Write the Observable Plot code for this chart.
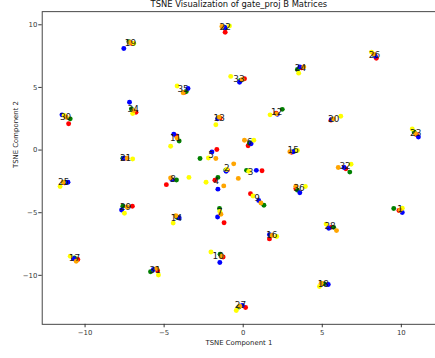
<!DOCTYPE html>
<html>
<head>
<meta charset="utf-8">
<script src="https://cdn.jsdelivr.net/npm/d3@7"></script>
<script src="https://cdn.jsdelivr.net/npm/@observablehq/plot@0.6"></script>
<style>
  html, body { margin: 0; padding: 0; background: #fff; }
  #chart { width: 435px; height: 358px; overflow: hidden; position: relative; }
</style>
</head>
<body>
<div id="chart"></div>
<script>
const titleText = "TSNE Visualization of gate_proj B Matrices";
const xLabel = "TSNE Component 1";
const yLabel = "TSNE Component 2";
const xTicks = [-10, -5, 0, 5, 10];
const yTicks = [-10, -5, 0, 5, 10];

const layers = d3.range(1, 37);
const seriesNames = ["red", "green", "blue", "yellow", "orange"];
const seriesColors = ["red", "green", "blue", "yellow", "orange"];

const redX = [9.85,-1.0,1.19,-1.79,-1.67,0.31,-1.21,-4.86,0.46,-1.27,-4.22,2.08,-1.46,-4.22,3.06,1.66,-10.46,5.03,-7.07,5.55,-7.5,-1.14,10.96,3.68,-11.29,8.42,0.15,5.55,-7.01,-11.04,-5.41,6.49,0.08,-6.78,-3.7,3.33];
const redY = [-4.83,-1.6,-1.65,-2.41,0.05,0.34,-5.8,-2.76,-3.49,-8.53,1.13,2.94,2.55,-5.33,-0.18,-7.09,-8.74,-10.68,8.53,2.39,-0.66,9.4,1.23,6.56,-2.62,7.32,-12.57,-6.17,-4.49,2.1,-9.63,-1.5,5.7,3.02,4.62,-3.07];
const greenX = [9.52,-1.1,0.21,-1.6,-2.73,0.4,-1.5,-4.22,1.31,-1.46,-4.05,2.47,-1.58,-4.16,3.26,1.75,-10.67,5.14,-7.23,5.65,-7.61,-1.2,10.81,3.43,-11.23,8.3,-0.27,5.72,-7.61,-10.94,-5.86,6.74,-0.17,-7.07,-3.6,3.43];
const greenY = [-4.67,-1.6,-1.62,-2.18,-0.68,0.55,-4.67,-2.39,-4.41,-8.32,0.73,3.25,2.55,-5.38,-0.08,-6.8,-8.61,-10.68,8.64,2.44,-0.65,9.8,1.44,6.43,-2.57,7.58,-12.52,-6.17,-4.49,2.49,-9.71,-1.76,5.56,3.28,4.67,-3.2];
const blueX = [10.06,-1.08,0.83,-1.6,-1.98,0.5,-1.62,-4.51,0.98,-1.48,-4.39,2.16,-1.62,-4.05,3.16,1.66,-10.73,5.38,-7.55,5.59,-7.55,-1.14,11.08,3.58,-11.08,8.36,-0.06,5.41,-7.69,-11.46,-5.68,6.38,-0.23,-7.19,-3.49,3.58];
const blueY = [-4.99,-1.7,-1.62,-3.12,-0.16,0.5,-5.35,-2.36,-4.02,-8.98,1.26,2.86,2.49,-5.43,-0.13,-6.75,-8.66,-10.73,8.11,2.44,-0.66,9.76,1.05,6.64,-2.57,7.48,-12.41,-6.25,-4.78,2.81,-9.53,-1.39,5.41,3.81,4.91,-3.41];
const yellowX = [10.06,-1.05,0.35,-2.35,-2.2,0.67,-1.48,-3.43,0.62,-2.04,-4.59,1.7,-1.73,-4.43,3.43,2.12,-10.94,4.82,-6.92,6.17,-6.99,-0.87,10.69,3.51,-11.58,8.11,-0.44,5.24,-7.51,-11.33,-5.36,6.82,-0.79,-6.99,-4.18,3.93];
const yellowY = [-4.65,-1.55,-1.7,-2.57,-0.63,0.79,-4.91,-2.18,-3.67,-8.14,0.31,2.81,2.02,-5.83,-0.03,-6.9,-8.48,-10.89,8.5,2.7,-0.71,9.9,1.68,6.14,-2.91,7.82,-12.81,-5.91,-5.04,2.76,-9.97,-1.13,5.88,2.91,5.12,-2.91];
const orangeX = [9.92,-0.6,-0.31,-1.23,-1.73,0.08,-1.41,-4.59,1.12,-1.37,-4.18,2.12,-1.52,-4.26,2.95,1.81,-10.56,4.93,-7.17,5.7,-7.34,-1.35,10.89,3.83,-11.39,8.25,-0.21,5.9,-7.34,-11.19,-5.47,6.01,-0.06,-6.92,-3.8,3.33];
const orangeY = [-4.8,-1.1,-2.26,-2.86,-0.68,0.79,-5.12,-2.23,-4.22,-8.48,0.97,2.89,2.62,-5.25,-0.13,-6.82,-8.87,-10.63,8.58,2.49,-0.65,9.87,1.31,6.64,-2.57,7.66,-12.47,-6.43,-4.54,2.62,-9.45,-1.39,5.64,3.15,4.57,-2.89];
const labelX = [9.92,-1.04,0.46,-1.7,-2.04,0.4,-1.48,-4.43,0.87,-1.58,-4.28,2.12,-1.52,-4.22,3.16,1.81,-10.67,5.07,-7.13,5.72,-7.44,-1.14,10.91,3.62,-11.35,8.3,-0.17,5.49,-7.44,-11.23,-5.57,6.44,-0.27,-6.96,-3.8,3.53];
const labelY = [-4.75,-1.45,-1.76,-2.49,-0.39,0.66,-4.93,-2.31,-3.86,-8.48,0.92,3.02,2.55,-5.43,0.0,-6.82,-8.66,-10.68,8.53,2.49,-0.66,9.79,1.36,6.54,-2.57,7.56,-12.41,-6.04,-4.59,2.62,-9.58,-1.31,5.64,3.28,4.86,-3.07];

const xs = [redX, greenX, blueX, yellowX, orangeX];
const ys = [redY, greenY, blueY, yellowY, orangeY];

const points = [];
seriesNames.forEach((s, si) => {
  layers.forEach((L, i) => {
    points.push({series: s, layer: L, x: xs[si][i], y: ys[si][i]});
  });
});
const labels = layers.map((L, i) => ({layer: L, x: labelX[i], y: labelY[i]}));

const font = "DejaVu Sans, sans-serif";

const plot = Plot.plot({
  width: 441,
  height: 358,
  marginLeft: 42.3,
  marginRight: 0,
  marginTop: 11.3,
  marginBottom: 29.7,
  style: {fontFamily: font, fontSize: "7px", color: "#333", background: "#fff"},
  x: {domain: [-12.71, 12.16], ticks: xTicks, label: null},
  y: {domain: [-13.91, 11.05], ticks: yTicks, label: null},
  color: {domain: seriesNames, range: seriesColors},
  marks: [
    Plot.dot(points, {x: "x", y: "y", fill: "series", r: 2.5, stroke: "none"}),
    Plot.text(labels, {x: "x", y: "y", text: d => String(d.layer), fontSize: 9, fill: "#1a1a1a"}),
    Plot.frame({stroke: "#444", strokeWidth: 1}),
    Plot.axisX({ticks: xTicks, tickSize: 3.5, tickPadding: 2, label: null, stroke: "#333", fill: "#333", fontSize: 7}),
    Plot.axisY({ticks: yTicks, tickSize: 3.5, tickPadding: 1.5, label: null, stroke: "#333", fill: "#333", fontSize: 7}),
    Plot.text([xLabel], {frameAnchor: "bottom", dy: 18.5, text: d => d, fontSize: 7, fill: "#222", lineAnchor: "middle"}),
    Plot.text([yLabel], {frameAnchor: "left", dx: -27, text: d => d, fontSize: 7, fill: "#222", rotate: -90, lineAnchor: "middle"}),
    Plot.text([titleText], {frameAnchor: "top", dy: -5, text: d => d, fontSize: 8.5, fill: "#111", lineAnchor: "bottom"})
  ]
});
document.getElementById("chart").appendChild(plot);
</script>
</body>
</html>
